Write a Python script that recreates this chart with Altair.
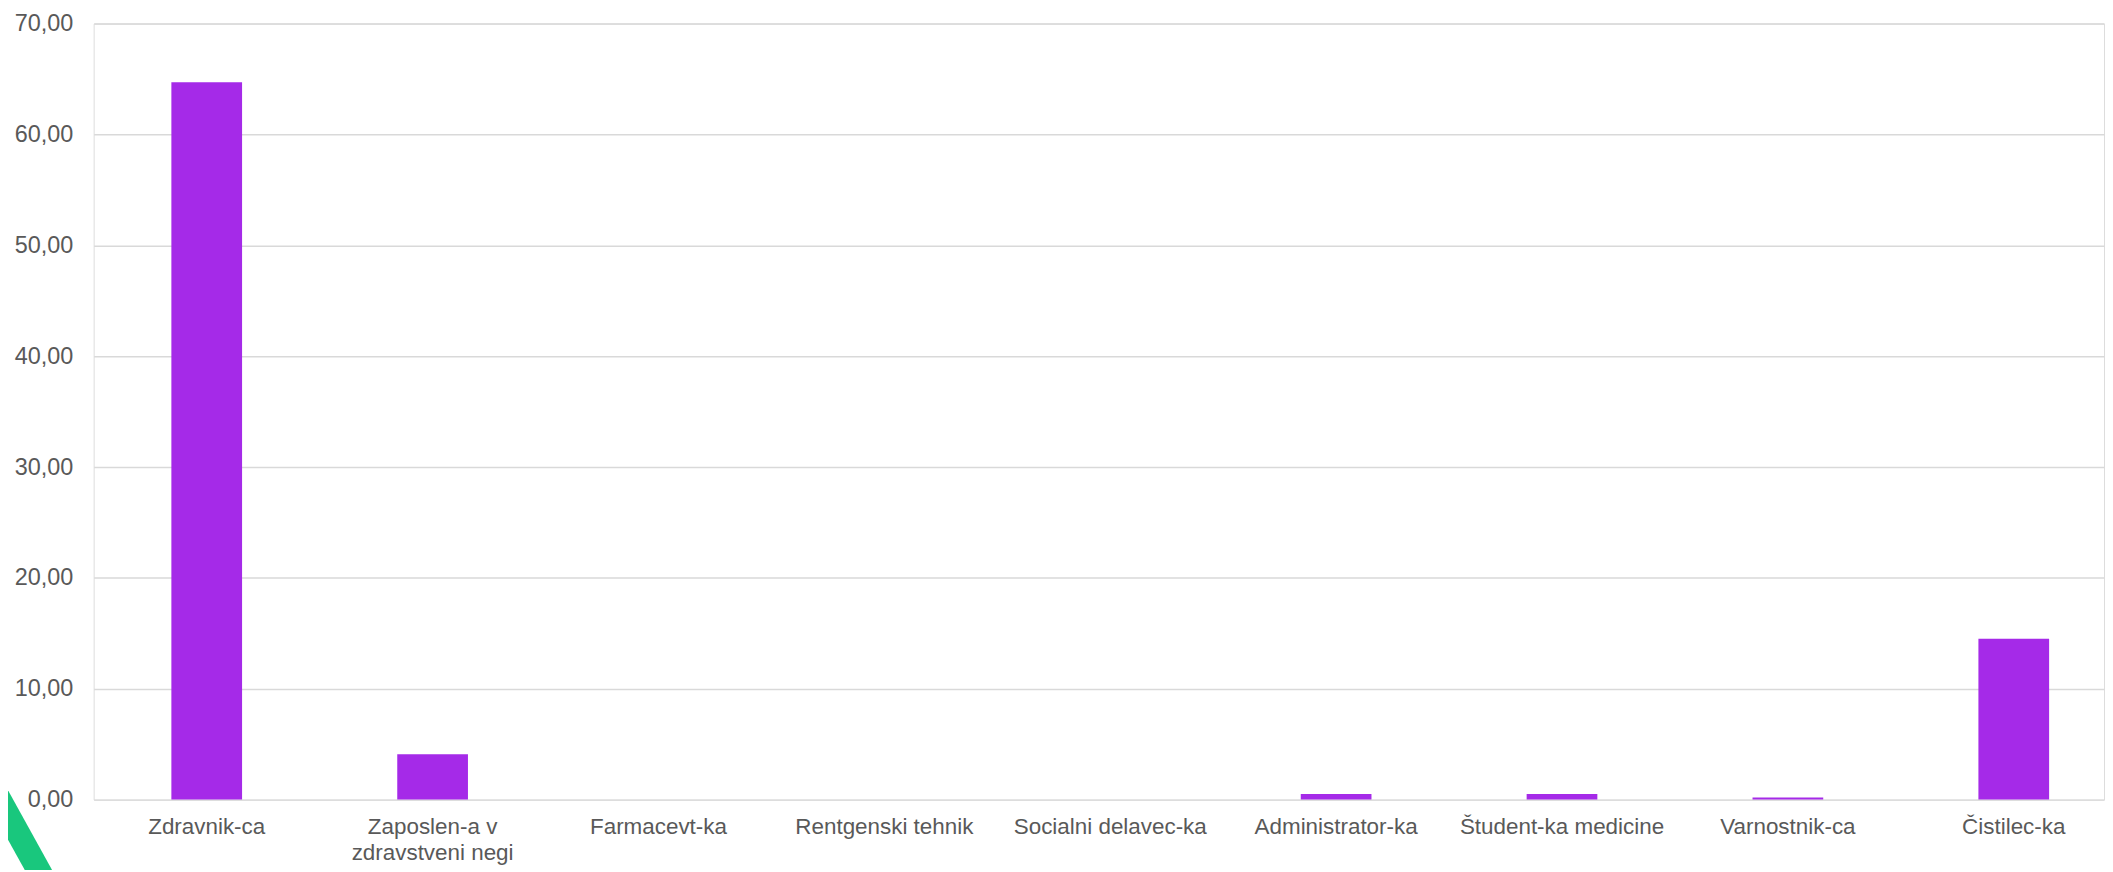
import altair as alt
import pandas as pd

categories = [
    "Zdravnik-ca",
    "Zaposlen-a v zdravstveni negi",
    "Farmacevt-ka",
    "Rentgenski tehnik",
    "Socialni delavec-ka",
    "Administrator-ka",
    "Študent-ka medicine",
    "Varnostnik-ca",
    "Čistilec-ka",
]
values = [64.7, 4.1, 0.0, 0.0, 0.0, 0.5, 0.5, 0.2, 14.5]
y_ticks = [0, 10, 20, 30, 40, 50, 60, 70]

df = pd.DataFrame({"cat": categories, "val": values})

FONT = "Liberation Sans"
LABEL = "#595959"

bars = alt.Chart(df).mark_bar(color="#A52AE8").encode(
    x=alt.X(
        "cat:N",
        sort=categories,
        title=None,
        scale=alt.Scale(paddingInner=0.687, paddingOuter=0.2935, align=0.586, round=False),
        axis=alt.Axis(
            domain=False,
            ticks=False,
            grid=False,
            labelAngle=0,
            labelFont=FONT,
            labelFontSize=22.5,
            labelColor=LABEL,
            labelPadding=16,
            labelLineHeight=26,
            labelLimit=400,
            labelExpr="datum.label == 'Zaposlen-a v zdravstveni negi' ? ['Zaposlen-a v', 'zdravstveni negi'] : datum.label",
        ),
    ),
    y=alt.Y(
        "val:Q",
        title=None,
        scale=alt.Scale(domain=[0, 70], nice=False),
        axis=alt.Axis(
            values=y_ticks,
            domain=False,
            ticks=False,
            grid=True,
            gridColor="#D9D9D9",
            gridWidth=1.5,
            labelFont=FONT,
            labelFontSize=23.5,
            labelColor=LABEL,
            labelPadding=21,
            labelExpr="replace(format(datum.value, '.2f'), '.', ',')",
        ),
    ),
)

stripe = alt.Chart(pd.DataFrame({"k": [0]})).mark_rule(
    color="#19C77D", strokeWidth=24, strokeCap="butt"
).encode(
    x=alt.value(-126),
    y=alt.value(722),
    x2=alt.value(-42),
    y2=alt.value(874),
)

chart = alt.layer(bars, stripe).properties(
    width=2018,
    height=779,
    autosize=alt.AutoSizeParams(type="none"),
    padding={"left": 86, "top": 14, "right": 1, "bottom": 69},
).configure_view(stroke=None).configure(background="white")

chart.save("out.html", embed_options={"renderer": "svg", "actions": False})
